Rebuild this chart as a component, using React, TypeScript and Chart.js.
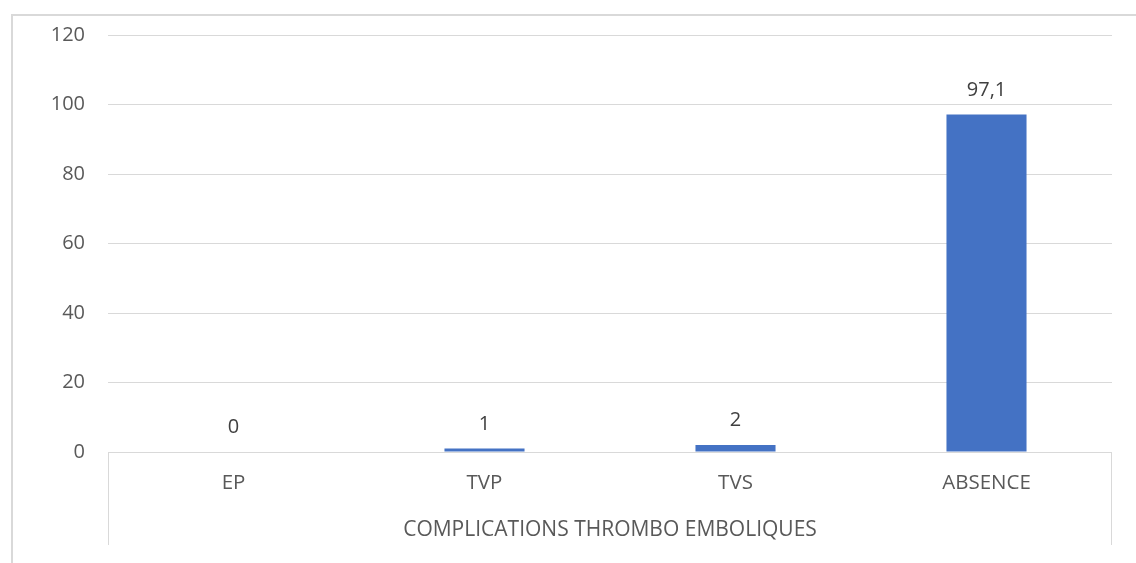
import React, { useEffect, useRef } from "react";
import { Chart, registerables } from "chart.js";

Chart.register(...registerables);

const categories = ["EP", "TVP", "TVS", "ABSENCE"];
const values = [0, 1, 2, 97.1];
const valueLabels = ["0", "1", "2", "97,1"];
const axisTitle = "COMPLICATIONS THROMBO EMBOLIQUES";
const yMin = 0;
const yMax = 120;
const yStep = 20;

const FONT = "'Open Sans', sans-serif";
const GRID = "#d9d9d9";

const framePlugin = {
  id: "frame",
  beforeDraw(chart: any) {
    const { ctx, width, height } = chart;
    ctx.save();
    ctx.fillStyle = "#ffffff";
    ctx.fillRect(0, 0, width, height);
    ctx.fillStyle = GRID;
    ctx.fillRect(11, 14, width - 11, 2);
    ctx.fillRect(11, 14, 2, height - 14);
    ctx.restore();
  },
  afterDraw(chart: any) {
    const { ctx, chartArea } = chart;
    ctx.save();
    ctx.strokeStyle = GRID;
    ctx.lineWidth = 1;
    ctx.beginPath();
    ctx.moveTo(Math.round(chartArea.left) + 0.5, chartArea.bottom);
    ctx.lineTo(Math.round(chartArea.left) + 0.5, 545);
    ctx.moveTo(Math.round(chartArea.right) - 0.5, chartArea.bottom);
    ctx.lineTo(Math.round(chartArea.right) - 0.5, 545);
    ctx.stroke();
    ctx.restore();
  },
  afterDatasetsDraw(chart: any) {
    const { ctx } = chart;
    const meta = chart.getDatasetMeta(0);
    ctx.save();
    ctx.font = `20px ${FONT}`;
    ctx.fillStyle = "#404040";
    ctx.textAlign = "center";
    ctx.textBaseline = "alphabetic";
    meta.data.forEach((bar: any, i: number) => {
      ctx.fillText(valueLabels[i], bar.x, bar.y - 19);
    });
    ctx.restore();
  },
};

export default function App() {
  const ref = useRef<HTMLCanvasElement | null>(null);
  useEffect(() => {
    if (!ref.current) return;
    const chart = new Chart(ref.current, {
      type: "bar",
      data: {
        labels: categories,
        datasets: [
          {
            data: values,
            backgroundColor: "#4472C4",
            borderWidth: 0,
            categoryPercentage: 1,
            barPercentage: 0.319,
          },
        ],
      },
      options: {
        responsive: false,
        animation: false,
        layout: { padding: { left: 0, right: 24, top: 33, bottom: 0 } },
        plugins: {
          legend: { display: false },
          tooltip: { enabled: false },
        },
        scales: {
          y: {
            min: yMin,
            max: yMax,
            ticks: {
              stepSize: yStep,
              padding: 23,
              color: "#595959",
              font: { family: FONT, size: 20 },
            },
            grid: { color: GRID, lineWidth: 1, drawTicks: false },
            border: { display: false },
            afterFit(scale: any) {
              scale.width = 108;
            },
          },
          x: {
            grid: { display: false },
            border: { display: false },
            ticks: {
              padding: 11,
              color: "#595959",
              font: { family: FONT, size: 20.5 },
            },
            title: {
              display: true,
              text: axisTitle,
              color: "#595959",
              font: { family: FONT, size: 21 },
              padding: { top: 0, bottom: 20 },
            },
            afterFit(scale: any) {
              scale.height = 111;
            },
          },
        },
      },
      plugins: [framePlugin],
    });
    return () => chart.destroy();
  }, []);
  return (
    <div style={{ position: "fixed", left: 0, top: 0, width: 1136, height: 563 }}>
      <canvas ref={ref} width={1136} height={563} />
    </div>
  );
}
